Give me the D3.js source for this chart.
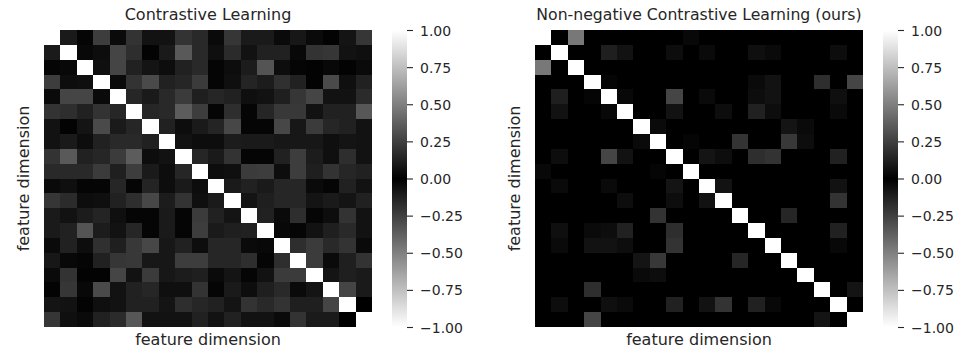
<!DOCTYPE html>
<html>
<head>
<meta charset="utf-8">
<script src="https://cdn.jsdelivr.net/npm/d3@7"></script>
<style>
  body { margin: 0; background: #fff; }
  svg text { font-family: "DejaVu Sans", sans-serif; fill: #262626; }
</style>
</head>
<body>
<div id="chart"></div>
<script>
// titles / labels
const titles = ['Contrastive Learning', 'Non-negative Contrastive Learning (ours)'];
const axisLabel = 'feature dimension';
const cbTicks = [1, 0.75, 0.5, 0.25, 0, -0.25, -0.5, -0.75, -1];

// upper triangle of each (symmetric) correlation matrix, row i holds j = i+1..19
const clUpper = [
  [.10,.02,.24,.04,.20,.07,.07,.20,.16,.04,.21,.10,.10,.04,.09,.04,.01,.08,.21],
  [.03,.05,.27,.18,.01,.10,.35,.16,.06,.17,.07,.13,.13,.03,.20,.21,.07,.06],
  [.06,.27,.13,.08,.05,.13,.16,.02,.05,.11,.33,.05,.02,.01,.03,.01,.04],
  [.04,.20,.29,.13,.15,.23,.02,.06,.14,.11,.19,.13,.01,.29,.06,.13],
  [.15,.10,.16,.23,.12,.15,.13,.06,.07,.12,.21,.27,.07,.07,.17],
  [.15,.16,.36,.24,.02,.18,.02,.15,.22,.22,.07,.13,.13,.34],
  [.13,.05,.10,.14,.28,.02,.02,.28,.09,.23,.15,.13,.07],
  [.07,.05,.05,.11,.10,.10,.09,.09,.09,.06,.08,.07],
  [.15,.10,.20,.02,.02,.13,.24,.11,.06,.18,.07],
  [.05,.06,.23,.24,.05,.24,.12,.20,.15,.13],
  [.10,.13,.10,.15,.15,.04,.02,.13,.07],
  [.08,.12,.15,.15,.08,.10,.08,.13],
  [.13,.04,.18,.02,.05,.20,.07],
  [.03,.02,.07,.12,.16,.07],
  [.18,.23,.16,.20,.04],
  [.23,.04,.12,.20],
  [.08,.12,.10],
  [.27,.10],
  [0]
];

const nnclUpper = [
  [0,.47,0,0,0,0,0,0,.03,0,0,0,0,0,0,0,0,0,0],
  [0,0,.12,.07,0,0,.05,0,.04,0,0,.06,.04,0,0,0,.05,0],
  [0,0,0,0,0,0,0,0,0,0,0,0,0,0,0,0,0],
  [.02,0,0,0,0,0,0,0,0,.04,.07,0,0,.18,0,.27],
  [.03,0,0,.27,0,.04,0,0,.05,.07,0,0,0,.06,0],
  [0,0,.07,0,0,.05,0,.13,.05,0,0,0,.04,0],
  [.04,0,0,0,0,0,0,0,.08,.04,0,0,0],
  [0,.02,0,0,.20,0,0,.22,.05,0,0,0],
  [0,.08,.05,0,.18,.20,0,0,0,.13,0],
  [0,0,0,0,0,0,0,0,0,0],
  [.07,0,0,0,0,0,0,.07,0],
  [0,0,0,0,0,0,.20,0],
  [0,0,.15,0,0,0,0],
  [0,0,0,0,.13,0],
  [0,0,0,.03,0],
  [0,0,0,0],
  [0,0,0],
  [0,.08],
  [0]
];

function toMatrix(upper) {
  const n = upper.length + 1;
  const m = d3.range(n).map(() => new Array(n).fill(1));
  upper.forEach((row, i) => row.forEach((v, k) => {
    const j = i + 1 + k;
    m[i][j] = v;
    m[j][i] = v;
  }));
  return m;
}

const matrices = [toMatrix(clUpper), toMatrix(nnclUpper)];

const W = 974, H = 351;
const mapTop = 30, mapH = 297, mapW = 328;
const panels = [{ x0: 44, cbX: 392 }, { x0: 535, cbX: 883 }];
const cbW = 15;

const color = d3.scaleLinear().domain([-1, 0, 1]).range(['#ffffff', '#000000', '#ffffff']);

const svg = d3.select('#chart').append('svg')
  .attr('width', W)
  .attr('height', H);

const defs = svg.append('defs');
const grad = defs.append('linearGradient')
  .attr('id', 'cbgrad')
  .attr('x1', 0).attr('y1', 1).attr('x2', 0).attr('y2', 0);
d3.range(-1, 1.0001, 0.1).forEach(v => {
  grad.append('stop')
    .attr('offset', ((v + 1) / 2 * 100) + '%')
    .attr('stop-color', color(v));
});

function addText(g, x, y, txt, size, rot) {
  return g.append('text')
    .attr('transform', `translate(${x},${y})` + (rot ? ` rotate(${rot})` : ''))
    .attr('text-anchor', 'middle')
    .style('font-size', size + 'px')
    .text(txt);
}

matrices.forEach((m, p) => {
  const { x0, cbX } = panels[p];
  const n = m.length;
  const x = d3.scaleBand().domain(d3.range(n + 1)).range([x0, x0 + mapW * (n + 1) / n]);
  const y = d3.scaleBand().domain(d3.range(n + 1)).range([mapTop, mapTop + mapH * (n + 1) / n]);
  const xe = j => Math.round(x(j));
  const ye = i => Math.round(y(i));

  const g = svg.append('g').attr('class', 'panel');

  const cells = [];
  m.forEach((row, i) => row.forEach((v, j) => cells.push({ i, j, v })));

  g.selectAll('rect.cell')
    .data(cells)
    .enter()
    .append('rect')
    .attr('class', 'cell')
    .attr('x', d => xe(d.j))
    .attr('y', d => ye(d.i))
    .attr('width', d => xe(d.j + 1) - xe(d.j))
    .attr('height', d => ye(d.i + 1) - ye(d.i))
    .attr('fill', d => color(d.v))
    .attr('shape-rendering', 'crispEdges');

  // title and axis labels
  addText(g, x0 + mapW / 2, 20, titles[p], p === 0 ? 16 : 15.7);
  addText(g, x0 + mapW / 2, 345, axisLabel, 16);
  addText(g, x0 - 15, mapTop + mapH / 2, axisLabel, 16, -90);

  // colorbar
  const cy = d3.scaleLinear().domain([-1, 1]).range([mapTop + mapH, mapTop]);
  g.append('rect')
    .attr('x', cbX)
    .attr('y', mapTop)
    .attr('width', cbW)
    .attr('height', mapH)
    .attr('fill', 'url(#cbgrad)');

  const cbAxis = d3.axisRight(cy)
    .tickValues(cbTicks)
    .tickSize(6)
    .tickPadding(7)
    .tickFormat(d3.format('.2f'));

  const ag = g.append('g')
    .attr('transform', `translate(${cbX + cbW},0)`)
    .call(cbAxis);
  ag.select('.domain').remove();
  ag.selectAll('.tick line').attr('stroke', '#262626').attr('stroke-width', 1.1);
  ag.selectAll('.tick text')
    .attr('dy', '0.36em')
    .style('font-size', '14px')
    .style('font-family', '"DejaVu Sans", sans-serif')
    .attr('fill', '#262626');
});
</script>
</body>
</html>
